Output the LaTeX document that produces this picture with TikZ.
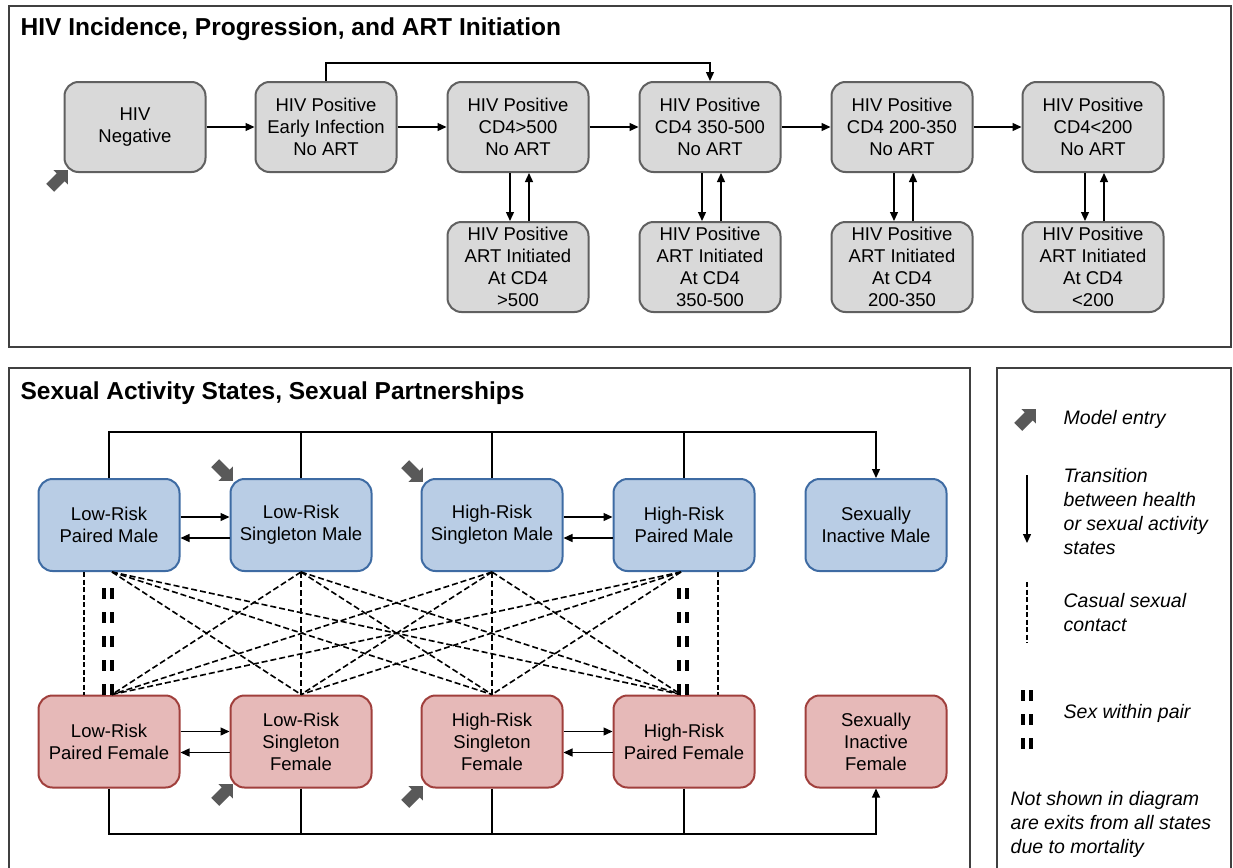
\documentclass[tikz,border=0pt]{standalone}
\usepackage{fontspec}
\setmainfont{Liberation Sans}
\usetikzlibrary{arrows.meta,shapes.arrows}

\definecolor{hivfill}{HTML}{D9D9D9}
\definecolor{hivline}{HTML}{606060}
\definecolor{malefill}{HTML}{B9CDE5}
\definecolor{maleline}{HTML}{3E6BA3}
\definecolor{femfill}{HTML}{E6B9B8}
\definecolor{femline}{HTML}{A03F3C}
\definecolor{entrygray}{HTML}{595959}

\newcommand{\boxfont}{\fontsize{18.5}{22}\selectfont}
\newcommand{\keyfont}{\fontsize{19.5}{24}\selectfont\itshape}

\tikzset{
  state/.style={shape=rectangle, rounded corners=14pt, line width=2pt,
    minimum width=141pt, minimum height=90pt, align=center, inner sep=2pt, font=\boxfont},
  hivstate/.style={state, draw=hivline, fill=hivfill},
  malestate/.style={state, draw=maleline, fill=malefill, minimum height=92pt},
  femstate/.style={state, draw=femline, fill=femfill, minimum height=92pt},
  panel/.style={draw=black!75, line width=1.3pt},
  paneltitle/.style={anchor=base west, inner sep=0pt, font=\fontsize{24.5}{28}\selectfont\bfseries},
  entry/.style={single arrow, fill=entrygray, draw=none, minimum height=25pt, minimum width=0pt,
    inner sep=5pt, single arrow head extend=4.5pt},
  casual/.style={line width=1.6pt, dash pattern=on 6pt off 3pt},
  casualthin/.style={line width=1.3pt, dash pattern=on 5pt off 2.5pt},
  pairsex/.style={line width=4pt, double=white, double distance=3.5pt, dash pattern=on 11pt off 13pt},
  keytext/.style={anchor=west, align=left, inner sep=0pt, font=\keyfont},
}

\begin{document}
\begin{tikzpicture}[x=1pt, y=-1pt, >={Triangle[length=9pt,width=8pt]}, line width=1.3pt]
    \useasboundingbox (0,0) rectangle (1233,867);

    % HIV panel
    \draw[panel] (9,6) rectangle (1231,347);
    \node[paneltitle] at (20,36) (title1) {HIV Incidence, Progression, and ART Initiation};

    \node[hivstate] at (135,127) (neg) {HIV\\Negative};
    \node[hivstate] at (326,127) (early) {HIV Positive\\Early Infection\\No ART};
    \node[hivstate] at (518,127) (c500) {HIV Positive\\CD4>500\\No ART};
    \node[hivstate] at (710,127) (c350) {HIV Positive\\CD4 350-500\\No ART};
    \node[hivstate] at (902,127) (c200) {HIV Positive\\CD4 200-350\\No ART};
    \node[hivstate] at (1093,127) (c0) {HIV Positive\\CD4<200\\No ART};
    \node[hivstate] at (518,267) (t500) {HIV Positive\\ART Initiated\\At CD4\\>500};
    \node[hivstate] at (710,267) (t350) {HIV Positive\\ART Initiated\\At CD4\\350-500};
    \node[hivstate] at (902,267) (t200) {HIV Positive\\ART Initiated\\At CD4\\200-350};
    \node[hivstate] at (1093,267) (t0) {HIV Positive\\ART Initiated\\At CD4\\<200};
    \node[entry, rotate=45] at (57,181) (in0) {};

    \path [->] (neg) edge (early);
    \path [->] (early) edge (c500);
    \path [->] (c500) edge (c350);
    \path [->] (c350) edge (c200);
    \path [->] (c200) edge (c0);
    \coordinate (skip) at (0,63);
    \draw [->] (early.north) |- (skip -| c350.north) -- (c350.north);
    \foreach \c/\t in {c500/t500, c350/t350, c200/t200, c0/t0} {
        \path [->] ([xshift=-8pt]\c.south) edge ([xshift=-8pt]\t.north);
        \path [->] ([xshift=11pt]\t.north) edge ([xshift=11pt]\c.south);
    }

    % sexual activity panel
    \draw[panel] (9,870) -- (9,368) -- (970,368) -- (970,870);
    \node[paneltitle] at (20,399) (title2) {Sexual Activity States, Sexual Partnerships};

    \node[malestate] at (109,525) (lpm) {Low-Risk\\Paired Male};
    \node[malestate] at (301,525) (lsm) {Low-Risk\\Singleton Male};
    \node[malestate] at (492,525) (hsm) {High-Risk\\Singleton Male};
    \node[malestate] at (684,525) (hpm) {High-Risk\\Paired Male};
    \node[malestate] at (876,525) (inm) {Sexually\\Inactive Male};
    \node[femstate] at (109,741.5) (lpf) {Low-Risk\\Paired Female};
    \node[femstate] at (301,741.5) (lsf) {Low-Risk\\Singleton\\Female};
    \node[femstate] at (492,741.5) (hsf) {High-Risk\\Singleton\\Female};
    \node[femstate] at (684,741.5) (hpf) {High-Risk\\Paired Female};
    \node[femstate] at (876,741.5) (inf) {Sexually\\Inactive\\Female};

    \node[entry, rotate=-45] at (222,470) (in1) {};
    \node[entry, rotate=-45] at (412,471) (in2) {};
    \node[entry, rotate=45] at (222,795) (in3) {};
    \node[entry, rotate=45] at (412,797) (in4) {};

    \path [->] ([yshift=8pt]lpm.east) edge ([yshift=8pt]lsm.west);
    \path [->] ([yshift=-13pt]lsm.west) edge ([yshift=-13pt]lpm.east);
    \path [->] ([yshift=8pt]hsm.east) edge ([yshift=8pt]hpm.west);
    \path [->] ([yshift=-13pt]hpm.west) edge ([yshift=-13pt]hsm.east);
    \path [->] ([yshift=10pt]lpf.east) edge ([yshift=10pt]lsf.west);
    \path [->] ([yshift=-11pt]lsf.west) edge ([yshift=-11pt]lpf.east);
    \path [->] ([yshift=10pt]hsf.east) edge ([yshift=10pt]hpf.west);
    \path [->] ([yshift=-11pt]hpf.west) edge ([yshift=-11pt]hsf.east);

    \coordinate (mbus) at (0,432);
    \coordinate (fbus) at (0,834);
    \draw [->] (lpm.north) |- (mbus -| inm.north) -- (inm.north);
    \foreach \s in {lsm, hsm, hpm} \draw (\s.north) -- (\s.north |- mbus);
    \draw [->] (lpf.south) |- (fbus -| inf.south) -- (inf.south);
    \foreach \s in {lsf, hsf, hpf} \draw (\s.south) -- (\s.south |- fbus);

    % casual contacts, every male state to every female state
    \foreach \m/\mx [count=\i] in {lpm/3, lsm/0, hsm/0, hpm/-3}
        \foreach \f/\fx [count=\j] in {lpf/3, lsf/0, hsf/0, hpf/-3} {
            \pgfmathtruncatemacro\keep{(\i!=\j) || (\i==2) || (\i==3)}
            \ifnum\keep=1
                \draw [casual] ([xshift=\mx pt]\m.south) -- ([xshift=\fx pt]\f.north);
            \fi
        }
    \draw [casualthin] ([xshift=-25pt]lpm.south) -- ([xshift=-25pt]lpf.north);
    \draw [casualthin] ([xshift=34pt]hpm.south) -- ([xshift=34pt]hpf.north);
    \draw [pairsex] ([xshift=-1pt, yshift=-16pt]lpm.south) -- ([xshift=-1pt]lpf.north);
    \draw [pairsex] ([xshift=-1pt, yshift=-16pt]hpm.south) -- ([xshift=-1pt]hpf.north);

    % key
    \draw[panel] (997,870) -- (997,368) -- (1231,368) -- (1231,870);
    \node[entry, rotate=45] at (1025,420) (kentry) {};
    \node[keytext, anchor=base west] at (1063,424) (kentrytext) {Model entry};
    \coordinate (ktrans1) at (1027,475);
    \coordinate (ktrans2) at (1027,543);
    \draw [->] (ktrans1) -- (ktrans2);
    \node[keytext] at (1063,512) (ktranstext) {Transition\\between health\\or sexual activity\\states};
    \coordinate (kcas1) at (1027,582);
    \coordinate (kcas2) at (1027,643);
    \draw [casualthin] (kcas1) -- (kcas2);
    \node[keytext] at (1063,613) (kcastext) {Casual sexual\\contact};
    \coordinate (kpair1) at (1027,690);
    \coordinate (kpair2) at (1027,749);
    \draw [pairsex] (kpair1) -- (kpair2);
    \node[keytext, anchor=base west] at (1063,718) (kpairtext) {Sex within pair};
    \node[keytext] at (1010,824) (knote) {Not shown in diagram\\are exits from all states\\due to mortality};
\end{tikzpicture}
\end{document}
